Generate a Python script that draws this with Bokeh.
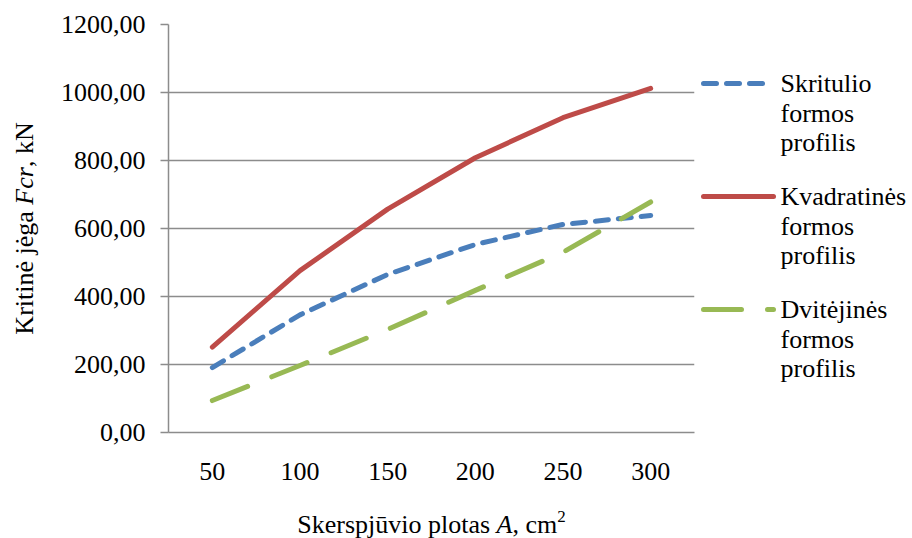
import math

from bokeh.embed import file_html
from bokeh.layouts import column, row
from bokeh.models import ColumnDataSource, FactorRange, FixedTicker, Range1d
from bokeh.plotting import figure
from bokeh.resources import INLINE

# --- data -------------------------------------------------------------
areas = ["50", "100", "150", "200", "250", "300"]          # cm2
skritulio = [191, 346, 465, 553, 612, 638]                 # kN
kvadratines = [251, 476, 657, 808, 926, 1012]              # kN
dvitejines = [94, 197, 303, 418, 530, 678]                 # kN

series_names = [
    "Skritulio\nformos\nprofilis",
    "Kvadratinės\nformos\nprofilis",
    "Dvitėjinės\nformos\nprofilis",
]
y_ticks = [0, 200, 400, 600, 800, 1000, 1200]
y_tick_labels = ["0,00", "200,00", "400,00", "600,00", "800,00", "1000,00", "1200,00"]

# --- styling ------------------------------------------------------------
SERIF = "Liberation Serif"
FS = 26
GRID = "#8c8c8c"
BLUE, RED, GREEN = "#4a7ebb", "#be4b48", "#98b954"
DASHES = ["13 10", "solid", "38 26"]
COLORS = [BLUE, RED, GREEN]

TOTAL_W, TOTAL_H = 912, 538
YT_W = 50            # strip holding the vertical axis title
LG_W = 212           # strip holding the legend
XT_H = 38            # strip holding the horizontal axis title
TOP_H = TOTAL_H - XT_H
MAIN_W = TOTAL_W - YT_W - LG_W

# frame placement (page pixels)
L, R, T, B = 168, 694, 24, 432


def blank(width, height, x0, y_top, y_bottom, border_top=0, border_bottom=0):
    """A bare figure whose data units are page pixels (y measured downwards)."""
    f = figure(width=width, height=height, title=None,
               x_range=Range1d(x0, x0 + width), y_range=Range1d(y_bottom, y_top),
               x_axis_type=None, y_axis_type=None, min_border=0,
               min_border_top=border_top, min_border_bottom=border_bottom,
               output_backend="svg", toolbar_location=None)
    f.outline_line_color = None
    f.grid.visible = False
    return f


def text_source():
    return dict(x=[], y=[], text=[], font=[], style=[], size=[], angle=[])


def add_text(src, x, y, text, style="normal", size=FS, angle=0.0):
    src["x"].append(x)
    src["y"].append(y)
    src["text"].append(text)
    src["font"].append(SERIF)
    src["style"].append(style)
    src["size"].append(f"{size}px")
    src["angle"].append(angle)


def draw_texts(fig, src, align):
    fig.text(x="x", y="y", text="text", text_font="font", text_font_style="style",
             text_font_size="size", angle="angle", text_align=align,
             text_baseline="middle", text_color="black", source=ColumnDataSource(src))


# --- main chart -----------------------------------------------------------
p = figure(
    x_range=FactorRange(factors=areas, range_padding=0),
    y_range=Range1d(0, 1200),
    width=MAIN_W, height=TOP_H, title=None,
    min_border_left=L - YT_W, min_border_right=YT_W + MAIN_W - R,
    min_border_top=T, min_border_bottom=TOP_H - B,
    output_backend="svg", toolbar_location=None,
)
p.outline_line_color = None
p.xgrid.grid_line_color = None
p.ygrid.grid_line_color = GRID
p.ygrid.grid_line_width = 1.5

p.yaxis.ticker = FixedTicker(ticks=y_ticks)
p.yaxis.major_label_overrides = dict(zip(y_ticks, y_tick_labels))
p.yaxis.minor_tick_line_color = None
p.yaxis.major_tick_in = 0
p.yaxis.major_tick_out = 8
p.yaxis.major_label_standoff = 15
p.xaxis.major_tick_in = 0
p.xaxis.major_tick_out = 0
p.xaxis.major_label_standoff = 30

p.xaxis.major_label_text_font = "'Liberation Serif'"
p.yaxis.major_label_text_font = "'Liberation Serif'"
p.xaxis.major_label_text_font_size = f"{FS}px"
p.yaxis.major_label_text_font_size = f"{FS}px"
for ax in (p.xaxis[0], p.yaxis[0]):
    ax.axis_line_color = GRID
    ax.axis_line_width = 1.5
    ax.major_tick_line_color = GRID
    ax.major_tick_line_width = 1.5
    ax.major_label_text_color = "black"

for vals, color, dash in zip([skritulio, kvadratines, dvitejines], COLORS, DASHES):
    p.line(areas, vals, line_color=color, line_width=5, line_dash=dash,
           line_cap="round", line_join="round")

# --- axis titles with mixed styles ------------------------------------------
em = FS

# vertical title, reading bottom to top; pieces anchored at their centres
yt = blank(YT_W, TOP_H, 0, T, B, T, TOP_H - B)
y_src = text_source()
y_parts = [("Kritinė jėga", "normal", 4.75, 5.000), ("Fcr", "italic", 1.444, 1.444),
           (", kN", "normal", 1.722, 1.722)]
y_total = sum(adv for *_, adv in y_parts) * em
pos = (T + B) / 2 + y_total / 2
for text, style, w, adv in y_parts:
    add_text(y_src, 24, pos - w * em / 2, text, style, angle=math.pi / 2)
    pos -= adv * em
draw_texts(yt, y_src, "center")

# horizontal title
xt = blank(TOTAL_W, XT_H, 0, TOP_H, TOTAL_H)
x_src = text_source()
x_parts = [("Skerspjūvio plotas", "normal", 7.417, 7.667), ("A", "italic", 0.611, 0.611),
           (", cm", "normal", 1.722, 1.722)]
sup_size = 17
x_total = sum(adv for *_, adv in x_parts) * em + 0.5 * sup_size
pos = (L + R) / 2 - x_total / 2
mid = 524
for text, style, w, adv in x_parts:
    add_text(x_src, pos + w * em / 2, mid, text, style)
    pos += adv * em
add_text(x_src, pos + 0.25 * sup_size, mid - 8, "2", size=sup_size)
draw_texts(xt, x_src, "center")

# --- legend ----------------------------------------------------------------
lg = blank(LG_W, TOP_H, YT_W + MAIN_W, T, B, T, TOP_H - B)
first_mid, group_step, line_step = 83, 113, 29.5
sample_ends = [765, 773, 773]
l_src = text_source()
for i, (name, color, dash, x_end) in enumerate(zip(series_names, COLORS, DASHES, sample_ends)):
    mid_i = first_mid + i * group_step
    lg.line([703, x_end], [mid_i, mid_i], line_color=color, line_width=5,
            line_dash=dash, line_cap="round")
    for j, part in enumerate(name.split("\n")):
        add_text(l_src, 780, mid_i + j * line_step, part)
draw_texts(lg, l_src, "left")

layout = column(row(yt, p, lg), xt)
open("out.html", "w").write(file_html(layout, INLINE))
